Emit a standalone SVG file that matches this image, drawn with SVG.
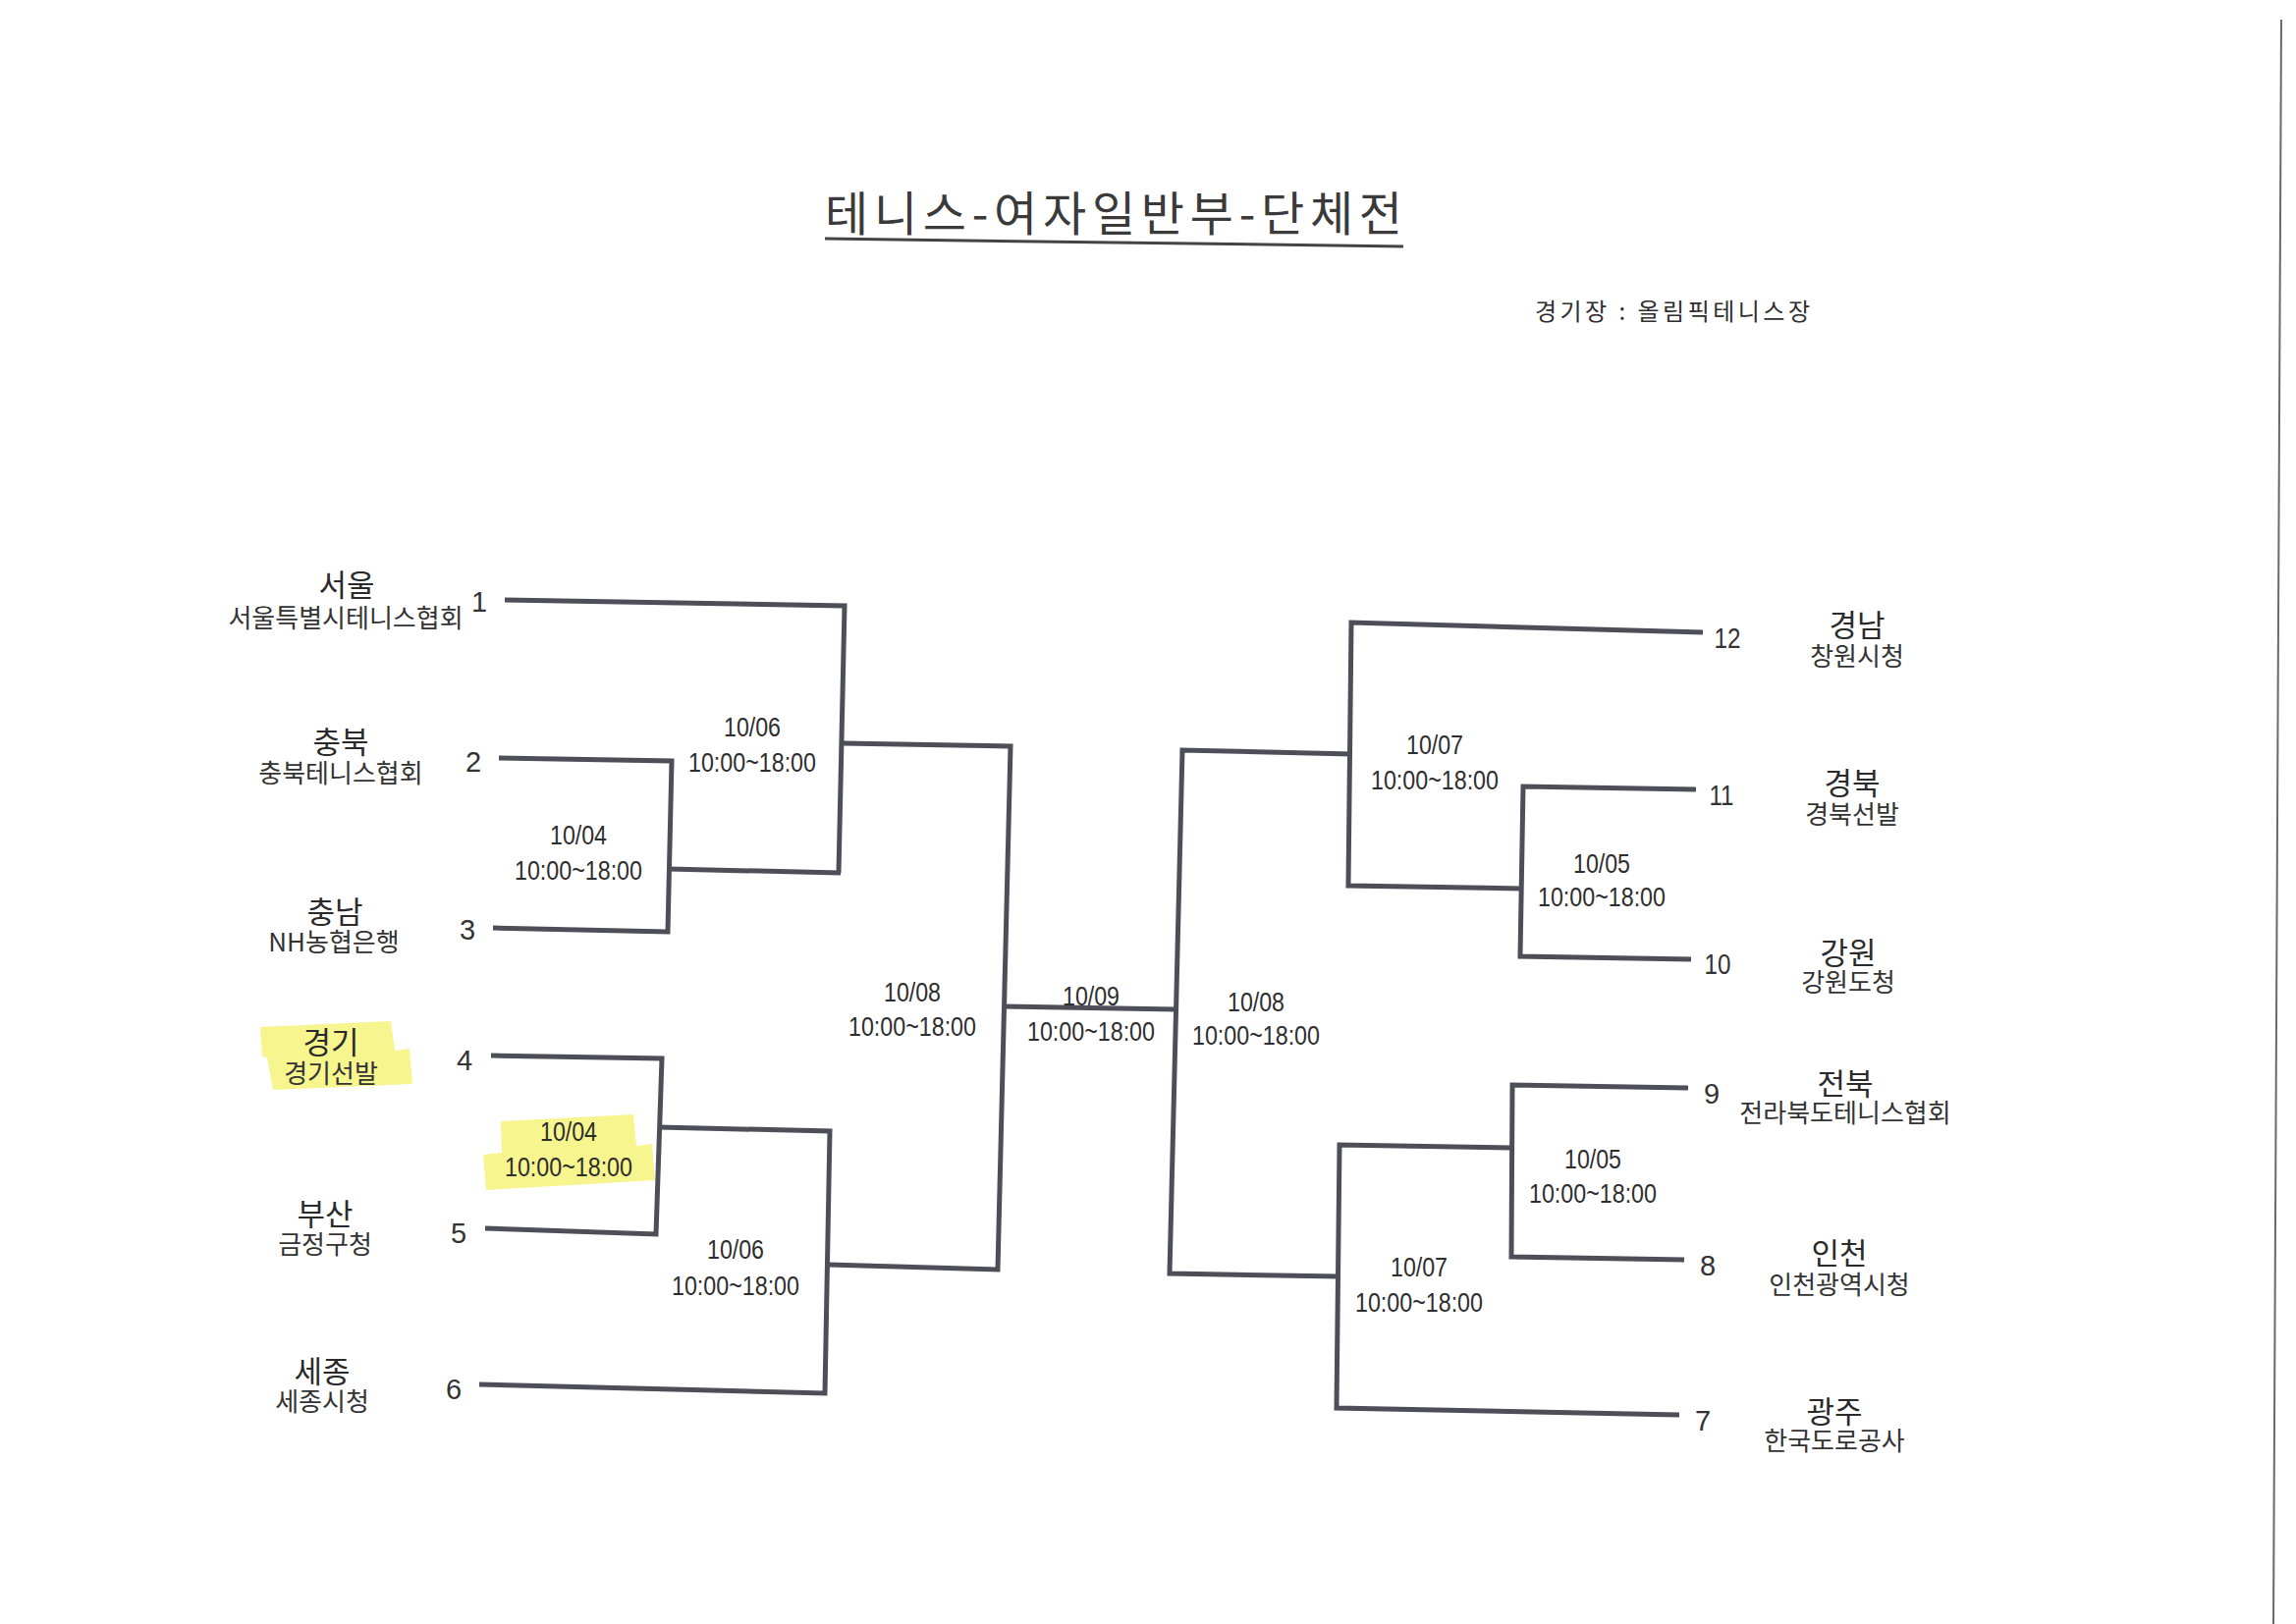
<svg xmlns="http://www.w3.org/2000/svg" width="2338" height="1654" viewBox="0 0 2338 1654">
<style>
.bg{fill:#ffffff}
.ln{fill:none;stroke:#4e4e58;stroke-width:5;stroke-linejoin:miter;stroke-linecap:butt}
.hl{fill:#f7f58e}
.ttl{font-family:"Noto Sans CJK KR","Noto Sans",sans-serif;font-size:48px;fill:#3a3a3a;text-anchor:middle}
.ven{font-family:"Noto Sans CJK KR","Noto Sans",sans-serif;font-size:24px;fill:#2e2e2e}
.tm{font-family:"Noto Sans CJK KR","Noto Sans",sans-serif;font-size:31px;fill:#2a2a2a;text-anchor:middle}
.sub{font-family:"Noto Sans CJK KR","Noto Sans",sans-serif;font-size:26px;fill:#333;text-anchor:middle}
.num{font-family:"Liberation Sans",Arial,sans-serif;font-size:29px;fill:#333;text-anchor:middle}
.dt{font-family:"Liberation Sans",Arial,sans-serif;font-size:27px;fill:#2e2e2e;text-anchor:middle}
.edge{fill:none;stroke:#6a6a6a;stroke-width:2}
</style>
<rect class="bg" x="0" y="0" width="2338" height="1654"/>
<line class="edge" x1="2323" y1="20" x2="2315" y2="1654"/>

<g id="title">
<text class="ttl" x="1134" y="235" textLength="588" lengthAdjust="spacing">테니스-여자일반부-단체전</text>
<line x1="840" y1="243" x2="1429" y2="251" stroke="#444" stroke-width="3"/>
</g>
<g id="venue">
<text class="ven" x="1563" y="326" textLength="280" lengthAdjust="spacing">경기장 : 올림픽테니스장</text>
</g>

<g id="highlights">
<path class="hl" d="M265,1046 L398,1040 L402,1070 L417,1068 L420,1104 L278,1110 L272,1077 L267,1076 Z"/>
<path class="hl" d="M510,1142 L645,1135 L648,1167 L664,1165 L667,1202 L495,1212 L492,1176 L511,1174 Z"/>
</g>

<g id="connectors">
<path class="ln" d="M514,611 L860,617 L854,889"/>
<path class="ln" d="M680,885 L856,889"/>
<path class="ln" d="M508,772 L684,775 L680,949 L502,945"/>
<path class="ln" d="M858,757 L1029,760 L1016,1293 L843,1288"/>
<path class="ln" d="M500,1075 L674,1078 L668,1257 L494,1251"/>
<path class="ln" d="M670,1148 L845,1152 L840,1419 L488,1410"/>
<path class="ln" d="M1022,1025 L1197,1028"/>
<path class="ln" d="M1376,768 L1204,764 L1191,1297 L1363,1300"/>
<path class="ln" d="M1734,644 L1376,634 L1373,902 L1550,905"/>
<path class="ln" d="M1727,804 L1551,801 L1548,974 L1722,977"/>
<path class="ln" d="M1719,1108 L1540,1105 L1539,1280 L1715,1283"/>
<path class="ln" d="M1541,1169 L1364,1166 L1361,1434 L1710,1441"/>
</g>

<g id="team1">
<text class="tm" x="353" y="607">서울</text>
<text class="sub" x="352" y="639">서울특별시테니스협회</text>
<text class="num" x="488" y="623">1</text>
</g>
<g id="team2">
<text class="tm" x="347" y="767">충북</text>
<text class="sub" x="347" y="797">충북테니스협회</text>
<text class="num" x="482" y="786">2</text>
</g>
<g id="team3">
<text class="tm" x="341" y="940">충남</text>
<text class="sub" x="340" y="969">NH농협은행</text>
<text class="num" x="476" y="957">3</text>
</g>
<g id="team4">
<text class="tm" x="337" y="1073">경기</text>
<text class="sub" x="337" y="1103">경기선발</text>
<text class="num" x="473" y="1090">4</text>
</g>
<g id="team5">
<text class="tm" x="331" y="1248">부산</text>
<text class="sub" x="331" y="1277">금정구청</text>
<text class="num" x="467" y="1266">5</text>
</g>
<g id="team6">
<text class="tm" x="328" y="1408">세종</text>
<text class="sub" x="328" y="1437">세종시청</text>
<text class="num" x="462" y="1425">6</text>
</g>
<g id="team12">
<text class="num" x="1759" y="660" textLength="27" lengthAdjust="spacingAndGlyphs">12</text>
<text class="tm" x="1891" y="648">경남</text>
<text class="sub" x="1891" y="678">창원시청</text>
</g>
<g id="team11">
<text class="num" x="1753" y="820" textLength="25" lengthAdjust="spacingAndGlyphs">11</text>
<text class="tm" x="1886" y="809">경북</text>
<text class="sub" x="1886" y="839">경북선발</text>
</g>
<g id="team10">
<text class="num" x="1749" y="992" textLength="27" lengthAdjust="spacingAndGlyphs">10</text>
<text class="tm" x="1882" y="982">강원</text>
<text class="sub" x="1882" y="1010">강원도청</text>
</g>
<g id="team9">
<text class="num" x="1743" y="1124">9</text>
<text class="tm" x="1879" y="1115">전북</text>
<text class="sub" x="1879" y="1143">전라북도테니스협회</text>
</g>
<g id="team8">
<text class="num" x="1739" y="1299">8</text>
<text class="tm" x="1873" y="1288">인천</text>
<text class="sub" x="1873" y="1318">인천광역시청</text>
</g>
<g id="team7">
<text class="num" x="1734" y="1457">7</text>
<text class="tm" x="1868" y="1449">광주</text>
<text class="sub" x="1868" y="1477">한국도로공사</text>
</g>

<g id="match-2-3">
<text class="dt" x="589" y="860" textLength="58" lengthAdjust="spacingAndGlyphs">10/04</text>
<text class="dt" x="589" y="896" textLength="130" lengthAdjust="spacingAndGlyphs">10:00~18:00</text>
</g>
<g id="match-1-23">
<text class="dt" x="766" y="750" textLength="58" lengthAdjust="spacingAndGlyphs">10/06</text>
<text class="dt" x="766" y="786" textLength="130" lengthAdjust="spacingAndGlyphs">10:00~18:00</text>
</g>
<g id="match-4-5">
<text class="dt" x="579" y="1162" textLength="58" lengthAdjust="spacingAndGlyphs">10/04</text>
<text class="dt" x="579" y="1198" textLength="130" lengthAdjust="spacingAndGlyphs">10:00~18:00</text>
</g>
<g id="match-45-6">
<text class="dt" x="749" y="1282" textLength="58" lengthAdjust="spacingAndGlyphs">10/06</text>
<text class="dt" x="749" y="1319" textLength="130" lengthAdjust="spacingAndGlyphs">10:00~18:00</text>
</g>
<g id="semi-left">
<text class="dt" x="929" y="1020" textLength="58" lengthAdjust="spacingAndGlyphs">10/08</text>
<text class="dt" x="929" y="1055" textLength="130" lengthAdjust="spacingAndGlyphs">10:00~18:00</text>
</g>
<g id="final">
<text class="dt" x="1111" y="1024" textLength="58" lengthAdjust="spacingAndGlyphs">10/09</text>
<text class="dt" x="1111" y="1060" textLength="130" lengthAdjust="spacingAndGlyphs">10:00~18:00</text>
</g>
<g id="semi-right">
<text class="dt" x="1279" y="1030" textLength="58" lengthAdjust="spacingAndGlyphs">10/08</text>
<text class="dt" x="1279" y="1064" textLength="130" lengthAdjust="spacingAndGlyphs">10:00~18:00</text>
</g>
<g id="match-12-1011">
<text class="dt" x="1461" y="768" textLength="58" lengthAdjust="spacingAndGlyphs">10/07</text>
<text class="dt" x="1461" y="804" textLength="130" lengthAdjust="spacingAndGlyphs">10:00~18:00</text>
</g>
<g id="match-11-10">
<text class="dt" x="1631" y="889" textLength="58" lengthAdjust="spacingAndGlyphs">10/05</text>
<text class="dt" x="1631" y="923" textLength="130" lengthAdjust="spacingAndGlyphs">10:00~18:00</text>
</g>
<g id="match-9-8">
<text class="dt" x="1622" y="1190" textLength="58" lengthAdjust="spacingAndGlyphs">10/05</text>
<text class="dt" x="1622" y="1225" textLength="130" lengthAdjust="spacingAndGlyphs">10:00~18:00</text>
</g>
<g id="match-98-7">
<text class="dt" x="1445" y="1300" textLength="58" lengthAdjust="spacingAndGlyphs">10/07</text>
<text class="dt" x="1445" y="1336" textLength="130" lengthAdjust="spacingAndGlyphs">10:00~18:00</text>
</g>
</svg>
